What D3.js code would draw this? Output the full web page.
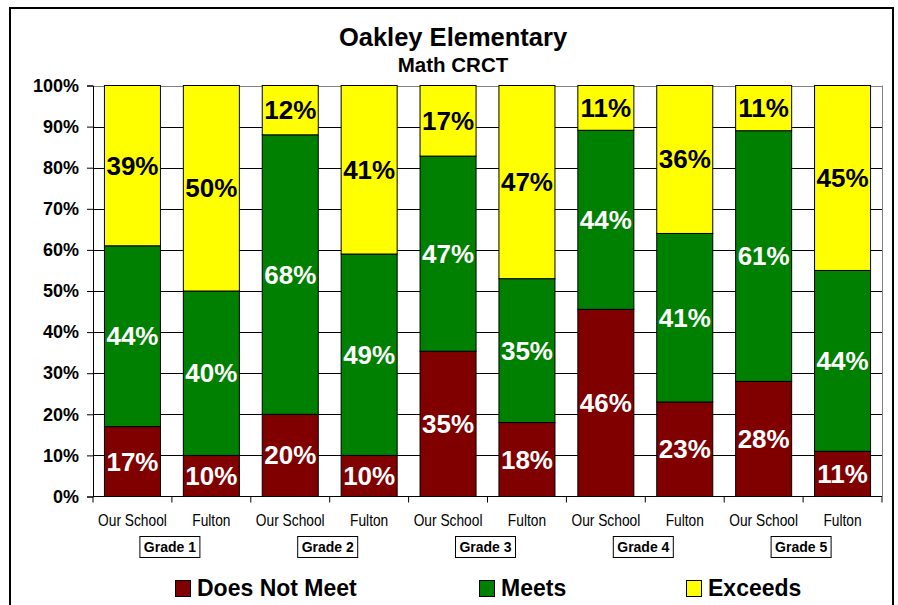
<!DOCTYPE html>
<html>
<head>
<meta charset="utf-8">
<script src="https://cdn.jsdelivr.net/npm/d3@7"></script>
<style>
  body { margin: 0; background: #fff; }
  text { font-family: "Liberation Sans", Arial, sans-serif; }
</style>
</head>
<body>
<script>
// data
const grades = ["Grade 1", "Grade 2", "Grade 3", "Grade 4", "Grade 5"];
const schools = ["Our School", "Fulton"];
const doesNotMeet = [17, 10, 20, 10, 35, 18, 46, 23, 28, 11];
const meets       = [44, 40, 68, 49, 47, 35, 44, 41, 61, 44];
const exceeds     = [39, 50, 12, 41, 17, 47, 11, 36, 11, 45];
const seriesNames = ["Does Not Meet", "Meets", "Exceeds"];
const yTicks = [0, 0.1, 0.2, 0.3, 0.4, 0.5, 0.6, 0.7, 0.8, 0.9, 1];

const colors = {"Does Not Meet": "#800000", "Meets": "#008000", "Exceeds": "#ffff00"};
const labelColors = {"Does Not Meet": "#fff", "Meets": "#fff", "Exceeds": "#000"};

// build table
let rows = [];
grades.forEach(function(g, gi) {
  schools.forEach(function(s, si) {
    let i = gi * 2 + si;
    rows.push({key: g + "|" + s, grade: g, school: s,
      "Does Not Meet": doesNotMeet[i], "Meets": meets[i], "Exceeds": exceeds[i]});
  });
});

const W = 898, H = 605;
let plot = {left: 93, right: 882, top: 85.5, bottom: 496.5};

let svg = d3.select("body").append("svg")
    .attr("width", W)
    .attr("height", H);

// chart frame
svg.append("rect")
    .attr("x", 10).attr("y", 8)
    .attr("width", 883).attr("height", 620)
    .attr("fill", "#fff")
    .attr("stroke", "#000")
    .attr("stroke-width", 2);

let x = d3.scaleBand()
    .domain(rows.map(d => d.key))
    .range([plot.left, plot.right])
    .paddingInner(0.29)
    .paddingOuter(0.145);

let xGroup = d3.scaleBand()
    .domain(grades)
    .range([plot.left, plot.right]);

let y = d3.scaleLinear()
    .domain([0, 1])
    .range([plot.bottom, plot.top]);

let stacked = d3.stack()
    .keys(seriesNames)
    .offset(d3.stackOffsetExpand)(rows);

// gridlines
svg.append("g")
    .selectAll("line")
    .data(yTicks.slice(1))
    .enter().append("line")
    .attr("x1", plot.left).attr("x2", plot.right)
    .attr("y1", d => Math.round(y(d)) + 0.5)
    .attr("y2", d => Math.round(y(d)) + 0.5)
    .attr("stroke", d => d === 1 ? "#808080" : "#000")
    .attr("stroke-width", 1);

// plot right border
svg.append("line")
    .attr("x1", plot.right + 0.5).attr("x2", plot.right + 0.5)
    .attr("y1", plot.top).attr("y2", plot.bottom)
    .attr("stroke", "#808080");

// bars
let layer = svg.selectAll(".layer")
    .data(stacked)
    .enter().append("g")
    .attr("class", "layer")
    .attr("fill", d => colors[d.key]);

layer.selectAll("rect")
    .data(d => d)
    .enter().append("rect")
    .attr("x", d => x(d.data.key))
    .attr("width", x.bandwidth())
    .attr("y", d => y(d[1]))
    .attr("height", d => y(d[0]) - y(d[1]))
    .attr("stroke", "#000")
    .attr("stroke-width", 1);

// segment labels
stacked.forEach(function(s) {
  svg.append("g").selectAll("text")
      .data(s)
      .enter().append("text")
      .attr("x", d => x(d.data.key) + x.bandwidth() / 2)
      .attr("y", d => y((d[0] + d[1]) / 2) + 9)
      .attr("text-anchor", "middle")
      .attr("font-size", 26)
      .attr("font-weight", "bold")
      .attr("fill", labelColors[s.key])
      .text(d => d.data[s.key] + "%");
});

// y axis
let yAxis = svg.append("g")
    .attr("transform", "translate(" + plot.left + ",0)")
    .call(d3.axisLeft(y).tickValues(yTicks).tickFormat(d3.format(".0%")).tickSize(6).tickPadding(8));
yAxis.selectAll("text")
    .attr("font-size", 18)
    .attr("font-weight", "bold")
    .attr("fill", "#000")
    .attr("font-family", "'Liberation Sans', Arial, sans-serif");
yAxis.select(".domain").attr("stroke", "#000");

// x axis (ticks at category boundaries)
let bounds = d3.range(rows.length + 1).map(i => plot.left + i * (plot.right - plot.left) / rows.length);
svg.append("line")
    .attr("x1", plot.left).attr("x2", plot.right)
    .attr("y1", plot.bottom).attr("y2", plot.bottom)
    .attr("stroke", "#000");
svg.append("g").selectAll("line")
    .data(bounds)
    .enter().append("line")
    .attr("x1", d => d).attr("x2", d => d)
    .attr("y1", plot.bottom).attr("y2", plot.bottom + 6)
    .attr("stroke", "#000");

// category labels, squeezed to look like a narrow font
svg.append("g").selectAll("text")
    .data(rows)
    .enter().append("text")
    .attr("transform", d => "translate(" + (x(d.key) + x.bandwidth() / 2) + ",526) scale(0.86,1)")
    .attr("text-anchor", "middle")
    .attr("font-size", 16)
    .text(d => d.school);

// grade boxes
let gbox = svg.append("g").selectAll("g")
    .data(grades)
    .enter().append("g")
    .attr("transform", d => "translate(" + (xGroup(d) + xGroup.bandwidth() / 2 - 2) + ",546.5)");
gbox.append("rect")
    .attr("x", -30).attr("y", -10)
    .attr("width", 60).attr("height", 21)
    .attr("fill", "#fff")
    .attr("stroke", "#000");
gbox.append("text")
    .attr("y", 5)
    .attr("text-anchor", "middle")
    .attr("font-size", 14)
    .attr("font-weight", "bold")
    .text(d => d);

// title
svg.append("text")
    .attr("x", 453).attr("y", 46)
    .attr("text-anchor", "middle")
    .attr("font-size", 25.5)
    .attr("font-weight", "bold")
    .text("Oakley Elementary");
svg.append("text")
    .attr("x", 453).attr("y", 72)
    .attr("text-anchor", "middle")
    .attr("font-size", 20.5)
    .attr("font-weight", "bold")
    .text("Math CRCT");

// legend
let legendX = [175, 479, 686];
let leg = svg.append("g").selectAll("g")
    .data(seriesNames)
    .enter().append("g")
    .attr("transform", (d, i) => "translate(" + legendX[i] + ",580)");
leg.append("rect")
    .attr("x", 0.5).attr("y", 0.5)
    .attr("width", 15).attr("height", 16)
    .attr("fill", d => colors[d])
    .attr("stroke", "#000");
leg.append("text")
    .attr("x", 22).attr("y", 15.5)
    .attr("font-size", 23)
    .attr("font-weight", "bold")
    .text(d => d);
</script>
</body>
</html>
